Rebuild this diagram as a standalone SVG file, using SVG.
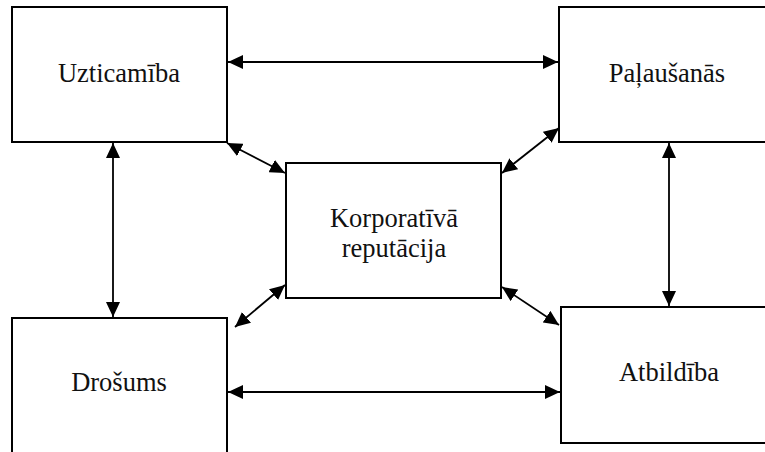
<svg xmlns="http://www.w3.org/2000/svg" width="765" height="452" viewBox="0 0 765 452">
  <style>
    .box { fill: #ffffff; stroke: #000000; stroke-width: 2; }
    .lbl { font-size: 26.5px; fill: #111111; text-anchor: middle; }
    .link { stroke: #000000; stroke-width: 1.8; fill: none; marker-start: url(#head); marker-end: url(#head); }
  </style>
  <defs>
    <marker id="head" viewBox="0 0 15 14" refX="15" refY="7" markerWidth="15" markerHeight="14" markerUnits="userSpaceOnUse" orient="auto-start-reverse">
      <path d="M0,0 L15,7 L0,14 Z" fill="#000000"/>
    </marker>
  </defs>

  <rect width="765" height="452" fill="#ffffff"/>

  <g id="connectors">
    <line class="link" x1="228" y1="62" x2="558" y2="62"/>
    <line class="link" x1="228" y1="392" x2="560" y2="392"/>
    <line class="link" x1="113" y1="143" x2="113" y2="317"/>
    <line class="link" x1="669" y1="143" x2="669" y2="306"/>
    <line class="link" x1="227" y1="143" x2="285" y2="173"/>
    <line class="link" x1="559" y1="128" x2="502" y2="173"/>
    <line class="link" x1="285" y1="285" x2="235" y2="327"/>
    <line class="link" x1="502" y1="287" x2="559" y2="325"/>
  </g>

  <g font-family="'Liberation Serif', 'Times New Roman', 'DejaVu Serif', serif">
    <g id="uzticamiba">
      <rect class="box" x="12" y="7" width="215" height="135"/>
      <text class="lbl" x="119" y="82">Uzticamība</text>
    </g>

    <g id="palausanas">
      <rect class="box" x="559" y="7" width="216" height="135"/>
      <text class="lbl" x="667" y="82">Paļaušanās</text>
    </g>

    <g id="korporativa-reputacija">
      <rect class="box" x="286" y="163" width="215" height="135"/>
      <text class="lbl" x="394" y="227">Korporatīvā</text>
      <text class="lbl" x="394" y="257">reputācija</text>
    </g>

    <g id="drosums">
      <rect class="box" x="12" y="318" width="215" height="145"/>
      <text class="lbl" x="119" y="391">Drošums</text>
    </g>

    <g id="atbildiba">
      <rect class="box" x="561" y="307" width="216" height="136"/>
      <text class="lbl" x="669" y="381">Atbildība</text>
    </g>
  </g>
</svg>
